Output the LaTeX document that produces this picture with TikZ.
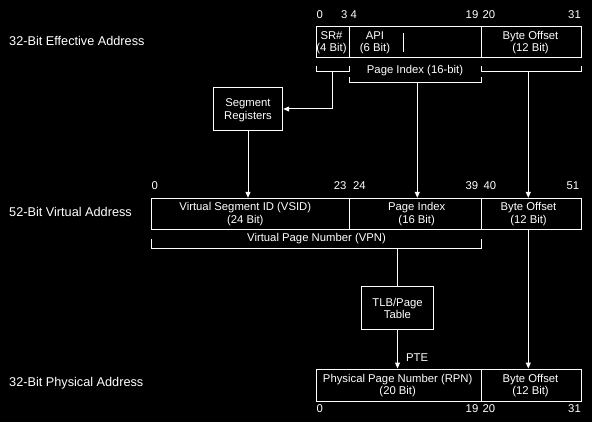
\documentclass[tikz,border=0pt]{standalone}
\usepackage{fontspec}
\setmainfont{Liberation Sans}
\usetikzlibrary{arrows.meta}
\begin{document}
\begin{tikzpicture}[x=1pt,y=-1pt,
  cell/.style={draw=white, line width=1pt, inner sep=0pt, minimum height=31pt},
  box/.style={draw=white, line width=1pt, inner sep=0pt},
  txt/.style={text=white, inner sep=0pt, align=center, font=\fontsize{11.3}{12.6}\selectfont},
  num/.style={text=white, inner sep=0pt, font=\fontsize{11.3}{12.6}\selectfont},
  big/.style={text=white, inner sep=0pt, anchor=west, font=\fontsize{12.7}{14}\selectfont},
  arr/.style={draw=white, line width=1pt, -{Triangle[length=6pt,width=5pt]}},
  ln/.style={draw=white, line width=1pt},
]
\fill[black] (0,0) rectangle (592,422);
\useasboundingbox (0,0) rectangle (592,422);

% left labels
\node[big] (leff) at (9,41) {32-Bit Effective Address};
\node[big] (lvir) at (9,212) {52-Bit Virtual Address};
\node[big] (lphy) at (9,383.5) {32-Bit Physical Address};

% effective address cells
\node[cell, minimum width=33.3pt] (sr) at (332.65,42.5) {};
\node[cell, minimum width=132.4pt] (api) at (415.5,42.5) {};
\node[cell, minimum width=99.3pt] (bo1) at (531.35,42.5) {};
\node[txt] (srtxt) at (331.5,42.6) {SR\#\\(4 Bit)};
\node[txt] (apitxt) at (375,42.6) {API\\(6 Bit)};
\node[txt] (bo1txt) at (530.5,42.6) {Byte Offset\\(12 Bit)};
\draw[ln] (403.7,33) -- (403.7,52);

% effective numbers
\node[num, anchor=west] (e0) at (316.5,15) {0};
\node[num, anchor=east] (e3) at (347.5,15) {3};
\node[num, anchor=west] (e4) at (350.5,15) {4};
\node[num, anchor=east] (e19) at (478.5,15) {19};
\node[num, anchor=west] (e20) at (482.5,15) {20};
\node[num, anchor=east] (e31) at (581,15) {31};

% brackets under effective address
\draw[ln] (316,66) -- (316,72) -- (349,72) -- (349,66);
\coordinate (b1) at (332.3,72);
\draw[ln] (349.3,77.5) -- (349.3,83) -- (481.7,83) -- (481.7,77.5);
\coordinate (b2) at (417.3,83);
\draw[ln] (481.7,66) -- (481.7,72) -- (581,72) -- (581,66);
\coordinate (b3) at (528.3,72);
\node[txt] (pitop) at (415,70.5) {Page Index (16-bit)};

% segment registers
\node[box, minimum width=69.4pt, minimum height=43.4pt] (segreg) at (248,109) {};
\node[txt, font=\fontsize{11.3}{13.4}\selectfont] (segtxt) at (248,110.3) {Segment\\Registers};

% virtual address cells
\node[cell, minimum width=197.6pt] (vsid) at (250.5,213.8) {};
\node[cell, minimum width=132.4pt] (pi) at (415.5,213.8) {};
\node[cell, minimum width=99.3pt] (bo2) at (531.35,213.8) {};
\node[txt] (vsidtxt) at (245.3,214) {Virtual Segment ID (VSID)\\(24 Bit)};
\node[txt] (pitxt) at (416.7,214) {Page Index\\(16 Bit)};
\node[txt] (bo2txt) at (528.5,214) {Byte Offset\\(12 Bit)};

% virtual numbers
\node[num, anchor=west] (v0) at (151.5,186) {0};
\node[num, anchor=east] (v23) at (346.7,186) {23};
\node[num, anchor=west] (v24) at (353,186) {24};
\node[num, anchor=east] (v39) at (478.3,186) {39};
\node[num, anchor=west] (v40) at (483.3,186) {40};
\node[num, anchor=east] (v51) at (579.3,186) {51};

% VPN bracket
\draw[ln] (151.7,239) -- (151.7,248.7) -- (481.7,248.7) -- (481.7,239);
\coordinate (vpn) at (397.5,248.7);
\node[txt] (vpntxt) at (316.5,238.8) {Virtual Page Number (VPN)};

% TLB
\node[box, minimum width=72.4pt, minimum height=43pt] (tlb) at (397.5,307.8) {};
\node[txt] (tlbtxt) at (397.5,308.5) {TLB/Page\\Table};

% physical address cells
\node[cell, minimum width=165.7pt, minimum height=32pt] (rpn) at (398.85,385) {};
\node[cell, minimum width=99.3pt, minimum height=32pt] (bo3) at (531.35,385) {};
\node[txt] (rpntxt) at (397.7,385.6) {Physical Page Number (RPN)\\(20 Bit)};
\node[txt] (bo3txt) at (530.5,385.6) {Byte Offset\\(12 Bit)};

% physical numbers
\node[num, anchor=west] (p0) at (316.5,409) {0};
\node[num, anchor=east] (p19) at (478.5,409) {19};
\node[num, anchor=west] (p20) at (482.5,409) {20};
\node[num, anchor=east] (p31) at (581,409) {31};

\node[txt, anchor=west] (pte) at (406,357.5) {PTE};

% connectors
\draw[arr] (b1) |- (segreg.east);
\draw[arr] (segreg.south) -- (segreg.south |- vsid.north);
\draw[arr] (b2) -- (b2 |- pi.north);
\draw[arr] (b3) -- (b3 |- bo2.north);
\draw[ln] (vpn) -- (vpn |- tlb.north);
\draw[arr] (tlb.south) -- (tlb.south |- rpn.north);
\draw[arr] (b3 |- bo2.south) -- (b3 |- bo3.north);
\end{tikzpicture}
\end{document}
